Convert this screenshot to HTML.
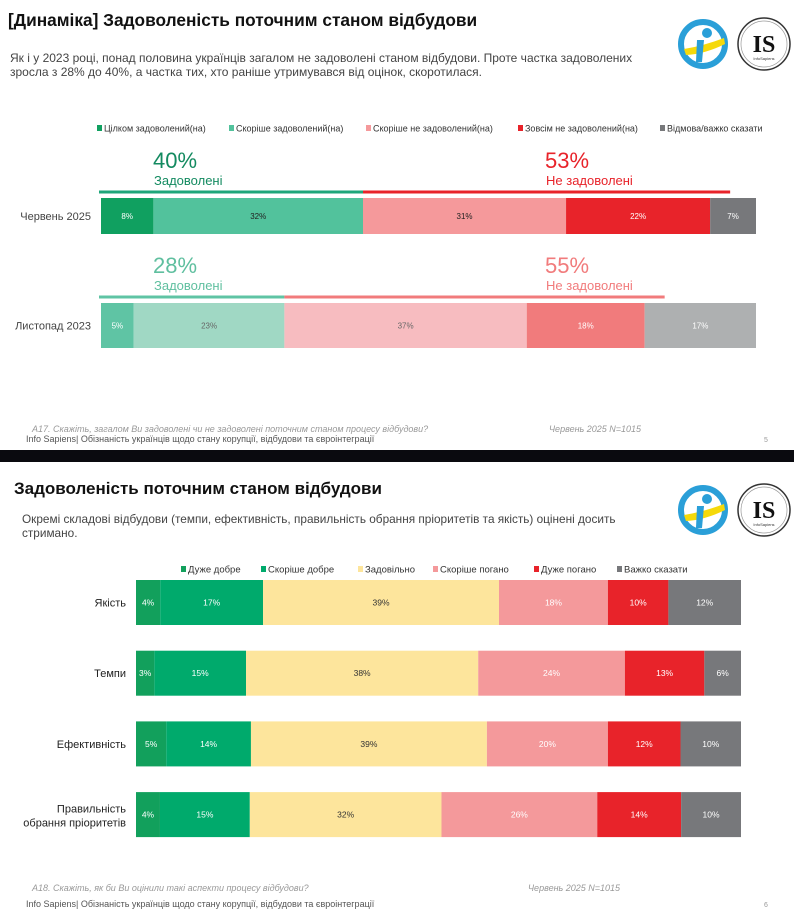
<!DOCTYPE html>
<html><head><meta charset="utf-8">
<style>
body{margin:0;width:794px;height:915px;overflow:hidden;background:#fff;font-family:"Liberation Sans","DejaVu Sans",sans-serif;}
svg text{font-family:"Liberation Sans","DejaVu Sans",sans-serif;}
</style></head>
<body>
<svg id="chart" width="794" height="915" viewBox="0 0 794 915" xmlns="http://www.w3.org/2000/svg">
  <rect x="0" y="0" width="794" height="915" fill="#fff"/>
  <text x="8" y="26" font-size="17.3" font-weight="bold" fill="#111">[Динаміка] Задоволеність поточним станом відбудови</text>
  <text x="10" y="62" font-size="12" fill="#444">Як і у 2023 році,  понад половина українців загалом не задоволені станом відбудови. Проте частка задоволених</text>
  <text x="10" y="76" font-size="12" fill="#444">зросла з 28% до 40%, а частка тих, хто раніше утримувався від оцінок, скоротилася.</text>
  <g>
    <circle cx="703" cy="44" r="22" fill="#fff" stroke="#2a9fd8" stroke-width="6"/><path d="M684 49 Q703 46 724 38 L725 44 Q705 54 686 55 Z" fill="#f5d90a"/><circle cx="707" cy="33" r="5" fill="#2a9fd8"/><path d="M697 40 L704 40 L702 62 L696 62 Z" fill="#2a9fd8"/>
    <circle cx="764" cy="44" r="26" fill="#fff" stroke="#333" stroke-width="1.5"/><circle cx="764" cy="44" r="23" fill="none" stroke="#999" stroke-width="0.7"/>
    <text x="764" y="52" text-anchor="middle" font-size="24" font-weight="bold" fill="#111" style="font-family:'Liberation Serif',serif">IS</text>
    <text x="764" y="60" text-anchor="middle" font-size="4" fill="#333">InfoSapiens</text>
  </g>
  <g id="legend1"></g>
  <g id="chart1"></g>
  <text x="32" y="432" font-size="9" font-style="italic" fill="#999">А17. Скажіть, загалом Ви задоволені чи не задоволені поточним станом процесу відбудови?</text>
  <text x="549" y="432" font-size="9" font-style="italic" fill="#999">Червень 2025 N=1015</text>
  <text x="26" y="442" font-size="9" fill="#555">Info Sapiens| Обізнаність українців щодо стану корупції, відбудови та євроінтеграції</text>
  <text x="764" y="442" font-size="7" fill="#999">5</text>
  <rect x="0" y="450" width="794" height="12" fill="#0a0a0f"/>
  <text x="14" y="494" font-size="17" font-weight="bold" fill="#111">Задоволеність поточним станом відбудови</text>
  <text x="22" y="523" font-size="11.8" fill="#444">Окремі складові відбудови (темпи, ефективність, правильність обрання пріоритетів та якість) оцінені досить</text>
  <text x="22" y="537" font-size="11.8" fill="#444">стримано.</text>
  <g>
    <circle cx="703" cy="510" r="22" fill="#fff" stroke="#2a9fd8" stroke-width="6"/><path d="M684 515 Q703 512 724 504 L725 510 Q705 520 686 521 Z" fill="#f5d90a"/><circle cx="707" cy="499" r="5" fill="#2a9fd8"/><path d="M697 506 L704 506 L702 528 L696 528 Z" fill="#2a9fd8"/>
    <circle cx="764" cy="510" r="26" fill="#fff" stroke="#333" stroke-width="1.5"/><circle cx="764" cy="510" r="23" fill="none" stroke="#999" stroke-width="0.7"/>
    <text x="764" y="518" text-anchor="middle" font-size="24" font-weight="bold" fill="#111" style="font-family:'Liberation Serif',serif">IS</text>
    <text x="764" y="526" text-anchor="middle" font-size="4" fill="#333">InfoSapiens</text>
  </g>
  <g id="legend2"></g>
  <g id="chart2"></g>
  <text x="32" y="891" font-size="9" font-style="italic" fill="#999">А18. Скажіть, як би Ви оцінили такі аспекти процесу відбудови?</text>
  <text x="528" y="891" font-size="9" font-style="italic" fill="#999">Червень 2025 N=1015</text>
  <text x="26" y="907" font-size="9" fill="#555">Info Sapiens| Обізнаність українців щодо стану корупції, відбудови та євроінтеграції</text>
  <text x="764" y="907" font-size="7" fill="#999">6</text>
</svg>
<script>
const c1Categories = ["Червень 2025", "Листопад 2023"];
const c1Series = ["Цілком задоволений(на)", "Скоріше задоволений(на)", "Скоріше не задоволений(на)", "Зовсім не задоволений(на)", "Відмова/важко сказати"];
const c1June2025 = [8, 32, 31, 22, 7];
const c1Nov2023 = [5, 23, 37, 18, 17];
const c1Satisfied = [40, 28];
const c1Unsatisfied = [53, 55];

const c2Categories = ["Якість", "Темпи", "Ефективність", "Правильність обрання пріоритетів"];
const c2Series = ["Дуже добре", "Скоріше добре", "Задовільно", "Скоріше погано", "Дуже погано", "Важко сказати"];
const c2Quality = [4, 17, 39, 18, 10, 12];
const c2Pace = [3, 15, 38, 24, 13, 6];
const c2Efficiency = [5, 14, 39, 20, 12, 10];
const c2Priorities = [4, 15, 32, 26, 14, 10];

const NS = "http://www.w3.org/2000/svg";
function mk(tag, attrs, parent, txt){
  const e = document.createElementNS(NS, tag);
  for (const k in attrs) e.setAttribute(k, attrs[k]);
  if (txt !== undefined) e.textContent = txt;
  parent.appendChild(e); return e;
}

const g1 = document.getElementById('chart1');
const lg1 = document.getElementById('legend1');
const c1Rows = [c1June2025, c1Nov2023];
const c1Colors = [["#10a060","#52c29c","#f5999b","#e8232a","#77787b"],["#5fc4a4","#a0d8c4","#f7bcc0","#f17b7c","#aeb0b1"]];
const c1Text = [["#fff","#222","#222","#fff","#fff"],["#fff","#666","#666","#fff","#fff"]];
const x1 = 101, w1 = 655;
const rowY1 = [198, 303], barH1 = [36, 45];
const legendX1 = [97, 229, 366, 518, 660];
c1Series.forEach((s, i) => {
  const r = mk('rect', {x: legendX1[i], y: 125, width: 5, height: 6, fill: c1Colors[0][i]}, lg1);
  
  
  const t = mk('text', {x: legendX1[i] + 7, y: 131.5, 'font-size': 9, fill: '#333'}, lg1, s);
  
  
});
c1Rows.forEach((vals, r) => {
  const total = vals.reduce((a, b) => a + b, 0);
  const sx = v => v / total * w1;
  let x = x1;
  const y = rowY1[r], h = barH1[r];
  const lab = mk('text', {x: 91, y: y + h / 2 + 4, 'text-anchor': 'end', 'font-size': 11, fill: '#444'}, g1, c1Categories[r]);
  
  
  vals.forEach((v, i) => {
    const w = sx(v);
    const b = mk('rect', {x: x, y: y, width: w, height: h, fill: c1Colors[r][i]}, g1);
    
    
    const t = mk('text', {x: x + w / 2, y: y + h / 2 + 3, 'text-anchor': 'middle', 'font-size': 8, fill: c1Text[r][i]}, g1, v + '%');
    
    
    x += w;
  });
  const sat = c1Satisfied[r], uns = c1Unsatisfied[r];
  const xs = x1 + sx(sat), xe = xs + sx(uns);
  const gc = r ? "#5fc4a4" : "#1ea67a", rc = r ? "#f17b7c" : "#e8232a";
  const ly = y - 6;
  const l1 = mk('rect', {x: x1 - 2, y: ly - 1.5, width: xs - x1 + 2, height: 3, fill: gc}, g1);
  
  
  const l2 = mk('rect', {x: xs, y: ly - 1.5, width: xe - xs + 20, height: 3, fill: rc}, g1);
  
  
  const n1 = mk('text', {x: 153, y: y - 30, 'font-size': 22, fill: r ? "#5fbf9f" : "#138a60"}, g1, sat + '%');
  
  
  const s1 = mk('text', {x: 154, y: y - 13, 'font-size': 13, fill: r ? "#5fbf9f" : "#138a60"}, g1, 'Задоволені');
  
  
  const n2 = mk('text', {x: 545, y: y - 30, 'font-size': 22, fill: r ? "#f17b7c" : "#e8232a"}, g1, uns + '%');
  
  
  const s2 = mk('text', {x: 546, y: y - 13, 'font-size': 13, fill: r ? "#f17b7c" : "#e8232a"}, g1, 'Не задоволені');
  
  
});

const g2 = document.getElementById('chart2');
const lg2 = document.getElementById('legend2');
const c2Rows = [c2Quality, c2Pace, c2Efficiency, c2Priorities];
const c2Colors = ["#12a05c","#00aa6c","#fde59c","#f4999b","#e8232a","#77787b"];
const c2Text = ["#fff","#fff","#333","#fff","#fff","#fff"];
const legendX2 = [181, 261, 358, 433, 534, 617];
c2Series.forEach((s, i) => {
  const r = mk('rect', {x: legendX2[i], y: 566, width: 5, height: 6, fill: c2Colors[i]}, lg2);
  
  
  const t = mk('text', {x: legendX2[i] + 7, y: 572.5, 'font-size': 9.5, fill: '#333'}, lg2, s);
  
  
});
const x2 = 136, w2 = 605, y20 = 580, step2 = 70.7, h2 = 45;
c2Rows.forEach((vals, r) => {
  const total = vals.reduce((a, b) => a + b, 0);
  const sx = v => v / total * w2;
  const y = y20 + r * step2;
  let x = x2;
  const name = c2Categories[r];
  if (name.length > 20) {
    const a = mk('text', {x: 126, y: y + h2 / 2 - 2, 'text-anchor': 'end', 'font-size': 11, fill: '#222'}, g2, 'Правильність');
    
    
    const b = mk('text', {x: 126, y: y + h2 / 2 + 12, 'text-anchor': 'end', 'font-size': 11, fill: '#222'}, g2, 'обрання пріоритетів');
    
    
  } else {
    const a = mk('text', {x: 126, y: y + h2 / 2 + 4, 'text-anchor': 'end', 'font-size': 11, fill: '#222'}, g2, name);
    
    
  }
  vals.forEach((v, i) => {
    const w = sx(v);
    const b = mk('rect', {x: x, y: y, width: w, height: h2, fill: c2Colors[i]}, g2);
    
    
    const t = mk('text', {x: x + w / 2, y: y + h2 / 2 + 3, 'text-anchor': 'middle', 'font-size': 8.5, fill: c2Text[i]}, g2, v + '%');
    
    
    x += w;
  });
});
</script>
</body></html>
